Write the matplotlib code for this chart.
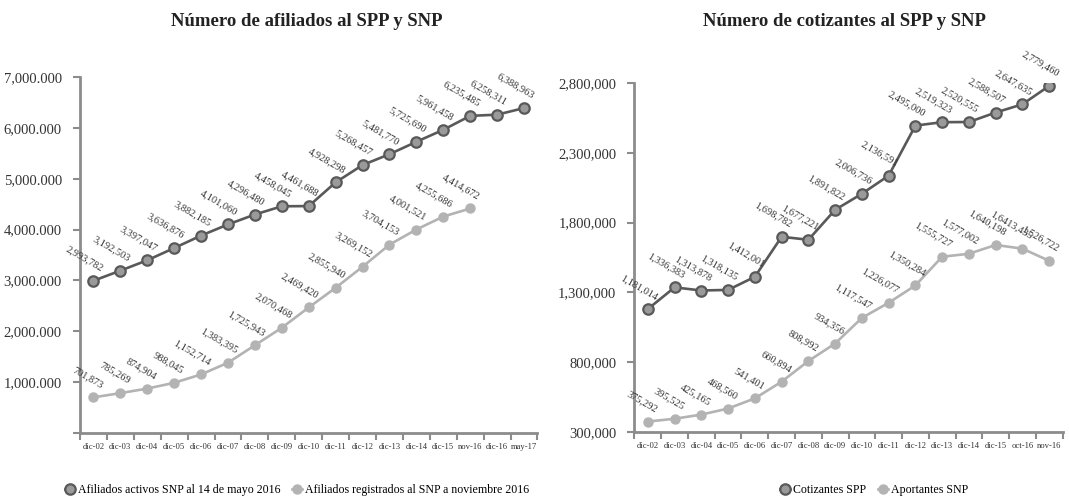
import numpy as np
import matplotlib
matplotlib.use("Agg")
import matplotlib.pyplot as plt
from matplotlib.ticker import FuncFormatter
from matplotlib.lines import Line2D

plt.rcParams['font.family'] = ['Liberation Serif', 'DejaVu Serif']

# Afiliados (left panel)
afil_cats = ['dic-02', 'dic-03', 'dic-04', 'dic-05', 'dic-06', 'dic-07', 'dic-08', 'dic-09',
             'dic-10', 'dic-11', 'dic-12', 'dic-13', 'dic-14', 'dic-15', 'nov-16', 'dic-16', 'may-17']
afil_spp = [2993782, 3192503, 3397047, 3636876, 3882185, 4101060, 4296480, 4458045, 4461688,
            4928298, 5268457, 5481770, 5725690, 5961458, 6235485, 6258311, 6388963]
afil_snp = [701873, 785269, 874904, 988045, 1152714, 1383395, 1725943, 2070468, 2469420,
            2855940, 3269152, 3704153, 4001521, 4255686, 4414672]

# Cotizantes / aportantes (right panel)
coti_cats = ['dic-02', 'dic-03', 'dic-04', 'dic-05', 'dic-06', 'dic-07', 'dic-08', 'dic-09',
             'dic-10', 'dic-11', 'dic-12', 'dic-13', 'dic-14', 'dic-15', 'oct-16', 'nov-16']
coti_spp = [1181014, 1336383, 1313878, 1318135, 1412001, 1698782, 1677221, 1891822, 2006736,
            2136591, 2495000, 2519323, 2520555, 2588507, 2647635, 2779460]
apor_snp = [375292, 395525, 425165, 468560, 541401, 660894, 808992, 934356, 1117547,
            1226077, 1350284, 1555727, 1577002, 1640198, 1613435, 1526722]
apor_labels = [f"{v:,}" for v in apor_snp]
apor_labels[14] = '1,6413,435'

DARK = '#595959'
DARK_FACE = '#9a9a9a'
LIGHT = '#b3b3b3'
AXIS = '#8c8c8c'


def draw_series(ax, values, labels, dark):
    x = np.arange(len(values))
    if dark:
        ax.plot(x, values, color=DARK, lw=1.9, marker='o', ms=7.5,
                mfc=DARK_FACE, mec=DARK, mew=1.6, zorder=3)
    else:
        ax.plot(x, values, color=LIGHT, lw=1.9, marker='o', ms=6.5,
                mfc=LIGHT, mec=LIGHT, zorder=3)
    for xi, v, t in zip(x, values, labels):
        ax.annotate(t, (xi, v), xytext=(5, 5.5), textcoords='offset points',
                    rotation=-30, rotation_mode='anchor', ha='right', va='bottom',
                    fontsize=7.5, color='#333333')


def style_axes(ax, cats):
    n = len(cats)
    ax.set_xlim(-0.5, n - 0.5)
    for s in ['top', 'right']:
        ax.spines[s].set_visible(False)
    for s in ['left', 'bottom']:
        ax.spines[s].set_color(AXIS)
        ax.spines[s].set_linewidth(2)
    ax.set_xticks(np.arange(-0.5, n, 1.0))
    ax.set_xticklabels([])
    ax.set_xticks(np.arange(n), minor=True)
    ax.set_xticklabels(cats, minor=True, fontsize=6.2, color='#333333')
    ax.tick_params(axis='x', which='major', length=5, width=1.5, color=AXIS)
    ax.tick_params(axis='x', which='minor', length=0, pad=7)
    ax.tick_params(axis='y', length=5, width=1.5, color=AXIS, labelsize=10.5,
                   labelcolor='#333333', pad=8)


fig = plt.figure(figsize=(10.69, 5.03), dpi=100)

ax1 = fig.add_axes([0.0748, 0.139, 0.428, 0.708])
draw_series(ax1, afil_spp, [f"{v:,}" for v in afil_spp], True)
draw_series(ax1, afil_snp, [f"{v:,}" for v in afil_snp], False)
style_axes(ax1, afil_cats)
ax1.set_ylim(0, 7000000)
ax1.set_yticks(np.arange(0, 7000001, 1000000))
ax1.yaxis.set_major_formatter(FuncFormatter(lambda v, p: '' if v == 0 else f"{v / 1000:,.0f}.000"))

ax2 = fig.add_axes([0.5935, 0.141, 0.4005, 0.694])
draw_series(ax2, coti_spp, [f"{v:,}" for v in coti_spp], True)
draw_series(ax2, apor_snp, apor_labels, False)
style_axes(ax2, coti_cats)
ax2.set_ylim(300000, 2800000)
ax2.set_yticks(np.arange(300000, 2800001, 500000))
ax2.yaxis.set_major_formatter(FuncFormatter(lambda v, p: f"{v:,.0f}"))

fig.text(0.287, 0.958, 'Número de afiliados al SPP y SNP', ha='center', va='center',
         fontsize=13.5, fontweight='bold', color='#222222')
fig.text(0.79, 0.958, 'Número de cotizantes al SPP y SNP', ha='center', va='center',
         fontsize=13.5, fontweight='bold', color='#222222')

h_dark = Line2D([], [], color=DARK, lw=1.9, marker='o', ms=7.5, mfc=DARK_FACE, mec=DARK, mew=1.6)
h_light = Line2D([], [], color=LIGHT, lw=1.9, marker='o', ms=6.5, mfc=LIGHT, mec=LIGHT)

fig.legend([h_dark, h_light],
           ['Afiliados activos SNP al 14 de mayo 2016', 'Afiliados registrados al SNP a noviembre 2016'],
           loc='center', bbox_to_anchor=(0.278, 0.026), ncol=2, frameon=False, fontsize=8.6,
           handlelength=0.8, handletextpad=0.3, columnspacing=1.0)
fig.legend([h_dark, h_light], ['Cotizantes SPP', 'Aportantes SNP'],
           loc='center', bbox_to_anchor=(0.818, 0.026), ncol=2, frameon=False, fontsize=8.6,
           handlelength=0.8, handletextpad=0.3, columnspacing=1.0)

fig.savefig('out.png', dpi=100)
